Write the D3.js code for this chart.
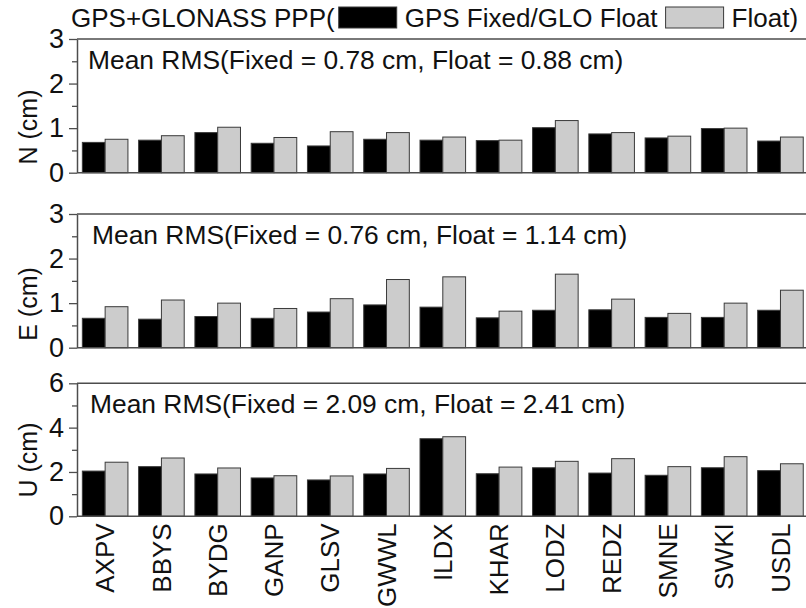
<!DOCTYPE html>
<html>
<head>
<meta charset="utf-8">
<script src="https://cdn.jsdelivr.net/npm/d3@7/dist/d3.min.js"></script>
<style>
  body { margin: 0; background: #fff; }
  svg { display: block; }
  text { font-family: "Liberation Sans", Arial, sans-serif; fill: #111; }
</style>
</head>
<body>
<svg id="chart" width="806" height="608"></svg>
<script>
// stations on the x axis
const stations = ["AXPV", "BBYS", "BYDG", "GANP", "GLSV", "GWWL", "ILDX", "KHAR", "LODZ", "REDZ", "SMNE", "SWKI", "USDL"];

// RMS (cm), GPS fixed / GLO float
const nFixed = [0.68, 0.73, 0.90, 0.66, 0.60, 0.75, 0.73, 0.72, 1.01, 0.87, 0.78, 0.99, 0.71];
const eFixed = [0.66, 0.64, 0.70, 0.66, 0.80, 0.96, 0.91, 0.67, 0.84, 0.85, 0.68, 0.68, 0.84];
const uFixed = [2.04, 2.24, 1.91, 1.73, 1.64, 1.91, 3.50, 1.92, 2.19, 1.95, 1.85, 2.19, 2.06];

// RMS (cm), float
const nFloat = [0.75, 0.83, 1.02, 0.79, 0.92, 0.90, 0.80, 0.73, 1.17, 0.90, 0.82, 1.00, 0.80];
const eFloat = [0.92, 1.07, 1.00, 0.88, 1.10, 1.53, 1.59, 0.82, 1.65, 1.09, 0.77, 1.00, 1.29];
const uFloat = [2.44, 2.63, 2.18, 1.83, 1.82, 2.16, 3.59, 2.22, 2.48, 2.60, 2.24, 2.69, 2.37];

const panelLabels = ["N (cm)", "E (cm)", "U (cm)"];
const panelMax = [3, 3, 6];
const majorTicks = [[0, 1, 2, 3], [0, 1, 2, 3], [0, 2, 4, 6]];
const meanText = [
  "Mean RMS(Fixed = 0.78 cm, Float = 0.88 cm)",
  "Mean RMS(Fixed = 0.76 cm, Float = 1.14 cm)",
  "Mean RMS(Fixed = 2.09 cm, Float = 2.41 cm)"
];
const seriesNames = ["GPS Fixed/GLO Float", "Float"];
const seriesColors = ["#000000", "#cccccc"];

const fixedData = [nFixed, eFixed, uFixed];
const floatData = [nFloat, eFloat, uFloat];

const svg = d3.select("#chart");

// layout of the three stacked panels
const left = 77, right = 808.6;
const panelTop = [39, 214, 383.3];
const panelBottom = [172.7, 347.7, 516.3];
const meanX = [88, 92, 90];
const labelY = [127, 304, 460];
const axisColor = "#4d4d4d";

const x = d3.scaleBand()
  .domain(stations)
  .range([left, right])
  .paddingInner(0.19)
  .paddingOuter(0.095);

const xSub = d3.scaleBand()
  .domain([0, 1])
  .range([0, x.bandwidth()]);

function drawPanel(p) {
  const y = d3.scaleLinear()
    .domain([0, panelMax[p]])
    .range([panelBottom[p], panelTop[p]]);

  const g = svg.append("g").attr("class", "panel");

  const rows = stations.map((s, i) => ({ station: s, values: [fixedData[p][i], floatData[p][i]] }));

  g.append("g").selectAll("g")
    .data(rows)
    .join("g")
    .attr("transform", d => `translate(${x(d.station)},0)`)
    .selectAll("rect")
    .data(d => d.values)
    .join("rect")
      .attr("x", (d, i) => xSub(i))
      .attr("width", xSub.bandwidth())
      .attr("y", d => y(d))
      .attr("height", d => y(0) - y(d))
      .attr("fill", (d, i) => seriesColors[i])
      .attr("stroke", "#3a3a3a")
      .attr("stroke-width", 1);

  // minor ticks (no labels)
  const step = majorTicks[p][1] - majorTicks[p][0];
  const minor = d3.range(step / 2, panelMax[p], step);
  g.append("g")
    .attr("transform", `translate(${left},0)`)
    .call(d3.axisLeft(y).tickValues(minor).tickSize(5).tickFormat(""))
    .call(a => a.select(".domain").remove())
    .call(a => a.selectAll("line").attr("stroke", axisColor).attr("stroke-width", 1.3));

  // major ticks
  g.append("g")
    .attr("transform", `translate(${left},0)`)
    .call(d3.axisLeft(y).tickValues(majorTicks[p]).tickSize(8).tickSizeOuter(0).tickPadding(5).tickFormat(d3.format("d")))
    .call(a => a.select(".domain").attr("stroke", axisColor).attr("stroke-width", 1.5))
    .call(a => a.selectAll("line").attr("stroke", axisColor).attr("stroke-width", 1.3))
    .call(a => a.selectAll("text")
      .attr("font-size", 27)
      .attr("font-family", "'Liberation Sans', Arial, sans-serif")
      .attr("fill", "#111"));

  // frame top and bottom
  [0, panelMax[p]].forEach(v => {
    g.append("line")
      .attr("x1", left).attr("x2", right)
      .attr("y1", y(v)).attr("y2", y(v))
      .attr("stroke", axisColor)
      .attr("stroke-width", 1.5);
  });

  g.append("text")
    .attr("x", meanX[p])
    .attr("y", panelTop[p] + 30)
    .attr("font-size", 26.4)
    .text(meanText[p]);

  g.append("text")
    .attr("transform", `translate(37,${labelY[p]}) rotate(-90)`)
    .attr("text-anchor", "middle")
    .attr("font-size", 25)
    .text(panelLabels[p]);
}

[0, 1, 2].forEach(drawPanel);

// station names under the bottom panel
svg.append("g").selectAll("text")
  .data(stations)
  .join("text")
    .attr("transform", d => `translate(${x(d) + x.bandwidth() / 2},${panelBottom[2] + 7}) rotate(-90)`)
    .attr("text-anchor", "end")
    .attr("dy", "0.35em")
    .attr("font-size", 26)
    .text(d => d);

// legend line at the top
const legend = svg.append("g").attr("class", "legend");
let lx = 71;
const title = legend.append("text")
  .attr("x", lx).attr("y", 27)
  .attr("font-size", 26)
  .text("GPS+GLONASS PPP(");
lx += title.node().getComputedTextLength() + 4;

seriesNames.forEach((name, i) => {
  legend.append("rect")
    .attr("x", lx).attr("y", 7)
    .attr("width", 58).attr("height", 21)
    .attr("fill", seriesColors[i])
    .attr("stroke", "#3a3a3a");
  lx += 58 + 8;
  const t = legend.append("text")
    .attr("x", lx).attr("y", 27)
    .attr("font-size", 26)
    .text(i === seriesNames.length - 1 ? name + ")" : name);
  lx += t.node().getComputedTextLength() + 8;
});
</script>
</body>
</html>
